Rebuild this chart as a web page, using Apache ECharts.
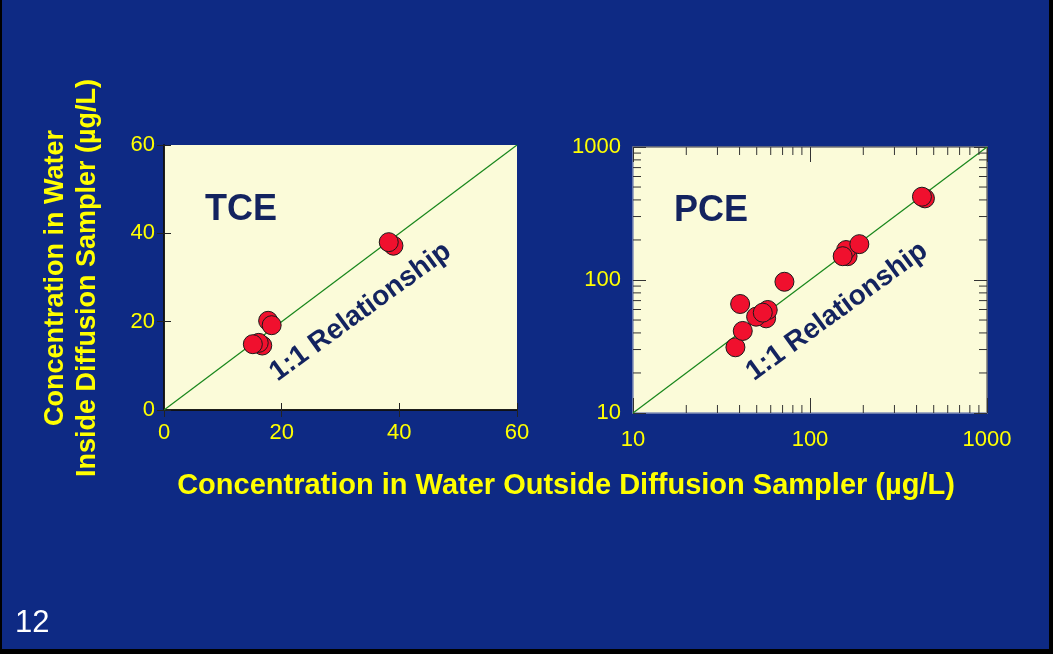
<!DOCTYPE html>
<html>
<head>
<meta charset="utf-8">
<script src="https://cdn.jsdelivr.net/npm/echarts@6/dist/echarts.min.js"></script>
<style>
html,body{margin:0;padding:0;background:#000;}
#c{position:absolute;left:2px;top:0;width:1047px;height:649px;background:#0e2a84;}
</style>
</head>
<body>
<div id="c"></div>
<script>
// ---- data ----
const tceX = [16.7, 16.1, 15.1, 17.7, 18.3, 39.0, 38.2];
const tceY = [14.6, 15.2, 14.9, 20.2, 19.2, 37.2, 38.0];
const pceX = [37.9, 41.7, 40.3, 56.5, 49.6, 57.7, 54.1, 71.7, 163, 160, 153, 190, 446, 429];
const pceY = [31.2, 41.4, 66.0, 51.5, 53.0, 59.5, 56.8, 97, 151, 168, 151, 186, 411, 423];
const tceTicks = [0, 20, 40, 60];
const pceMajor = [10, 100, 1000];
const pceMinor = [20, 30, 40, 50, 60, 70, 80, 90, 200, 300, 400, 500, 600, 700, 800, 900];
const oneToOneTCE = [[0, 0], [60, 60]];
const oneToOnePCE = [[10, 10], [1000, 1000]];
const panelNames = ['TCE', 'PCE'];
const lineLabel = '1:1 Relationship';
const xTitle = 'Concentration in Water Outside Diffusion Sampler (µg/L)';
const yTitle = ['Concentration in Water', 'Inside Diffusion Sampler (µg/L)'];
const slideNumber = '12';
// annotation anchors (data coords)
const tceNamePos = [13.1, 45.3];
const pceNamePos = [27.6, 327];
const tceLinePos = [33.4, 22.2];
const pceLinePos = [142, 58];

const FONT = '"Liberation Sans", Arial, sans-serif';
const YELLOW = '#ffff00';
const NAVY = '#13235f';
const PLOTBG = '#fbfbd9';
const RED = '#f0102e';

const chart = echarts.init(document.getElementById('c'), null, {renderer: 'canvas'});

function labelStyle(margin) {
  return {color: YELLOW, fontSize: 22, fontFamily: FONT, margin: margin, formatter: v => String(v)};
}

function annotations(items) {
  return function (params, api) {
    const it = items[params.dataIndex];
    const p = api.coord(it.pos);
    return {type: 'text', x: p[0], y: p[1], rotation: (it.rotate || 0) * Math.PI / 180,
      style: {text: it.text, fill: NAVY, font: 'bold ' + it.size + 'px ' + FONT,
        textAlign: 'center', textVerticalAlign: 'middle'}};
  };
}
const tceAnn = [{pos: tceNamePos, text: panelNames[0], size: 36},
                {pos: tceLinePos, text: lineLabel, size: 28, rotate: 36}];
const pceAnn = [{pos: pceNamePos, text: panelNames[1], size: 36},
                {pos: pceLinePos, text: lineLabel, size: 28, rotate: 36}];

const option = {
  animation: false,
  grid: [
    {left: 162, top: 145, width: 353, height: 265, show: true, backgroundColor: PLOTBG, borderWidth: 0},
    {left: 631, top: 147, width: 354, height: 266, show: true, backgroundColor: PLOTBG, borderWidth: 0}
  ],
  xAxis: [
    {gridIndex: 0, type: 'value', min: 0, max: 60, interval: 20, position: 'bottom',
     axisLine: {lineStyle: {color: '#111', width: 1.5}}, axisTick: {inside: true, length: 7, lineStyle: {color: '#222'}},
     axisLabel: labelStyle(12), splitLine: {show: false}},
    {gridIndex: 0, type: 'value', min: 0, max: 60, interval: 20, position: 'top',
     axisLine: {lineStyle: {color: '#111', width: 1.5}}, axisTick: {inside: true, length: 7, lineStyle: {color: '#222'}},
     axisLabel: {show: false}, splitLine: {show: false}},
    {gridIndex: 1, type: 'log', logBase: 10, min: 10, max: 1000, position: 'bottom',
     axisLine: {lineStyle: {color: '#8592b8', width: 1.5}}, axisTick: {inside: true, length: 15, lineStyle: {color: '#333'}},
     axisLabel: labelStyle(16), splitLine: {show: false}},
    {gridIndex: 1, type: 'log', logBase: 10, min: 10, max: 1000, position: 'top',
     axisLine: {lineStyle: {color: '#777', width: 1.5}}, axisTick: {inside: true, length: 15, lineStyle: {color: '#333'}},
     axisLabel: {show: false}, splitLine: {show: false}}
  ],
  yAxis: [
    {gridIndex: 0, type: 'value', min: 0, max: 60, interval: 20, position: 'left',
     axisLine: {lineStyle: {color: '#111', width: 1.5}}, axisTick: {inside: true, length: 7, lineStyle: {color: '#222'}},
     axisLabel: Object.assign(labelStyle(9), {padding: [6, 0, 0, 0]}), splitLine: {show: false}},
    {gridIndex: 0, type: 'value', min: 0, max: 60, interval: 20, position: 'right',
     axisLine: {lineStyle: {color: '#111', width: 1.5}}, axisTick: {inside: true, length: 7, lineStyle: {color: '#222'}},
     axisLabel: {show: false}, splitLine: {show: false}},
    {gridIndex: 1, type: 'log', logBase: 10, min: 10, max: 1000, position: 'left',
     axisLine: {lineStyle: {color: '#8592b8', width: 1.5}}, axisTick: {inside: true, length: 13, lineStyle: {color: '#333'}},
     axisLabel: Object.assign(labelStyle(12), {padding: [4, 0, 0, 0]}), splitLine: {show: false}},
    {gridIndex: 1, type: 'log', logBase: 10, min: 10, max: 1000, position: 'right',
     axisLine: {lineStyle: {color: '#777', width: 1.5}}, axisTick: {inside: true, length: 13, lineStyle: {color: '#333'}},
     axisLabel: {show: false}, splitLine: {show: false}}
  ],
  graphic: [
    {type: 'text', x: 70, y: 278, rotation: Math.PI / 2,
     style: {text: yTitle.join('\n'), fill: YELLOW, font: 'bold 27px ' + FONT, textAlign: 'center', textVerticalAlign: 'middle', lineHeight: 32}},
    {type: 'text', x: 564, y: 486,
     style: {text: xTitle, fill: YELLOW, font: 'bold 29px ' + FONT, textAlign: 'center', textVerticalAlign: 'middle'}},
    {type: 'text', x: 13, y: 623,
     style: {text: slideNumber, fill: '#ffffff', font: '31px ' + FONT, textAlign: 'left', textVerticalAlign: 'middle'}}
  ],
  series: [
    {type: 'line', xAxisIndex: 0, yAxisIndex: 0, data: oneToOneTCE, symbol: 'none',
     lineStyle: {color: '#17861b', width: 1.2}, silent: true, z: 2},
    {type: 'line', xAxisIndex: 2, yAxisIndex: 2, data: oneToOnePCE, symbol: 'none',
     lineStyle: {color: '#17861b', width: 1.2}, silent: true, z: 2},
    {type: 'custom', xAxisIndex: 2, yAxisIndex: 2, data: pceMinor.map(v => [v]), silent: true, clip: false, z: 3,
     renderItem: function (params, api) {
       const v = api.value(0);
       const cs = params.coordSys;
       const x = api.coord([v, 10])[0];
       const y = api.coord([10, v])[1];
       const L = 8;
       const st = {stroke: '#333', lineWidth: 1};
       return {type: 'group', children: [
         {type: 'line', shape: {x1: x, y1: cs.y + cs.height, x2: x, y2: cs.y + cs.height - L}, style: st},
         {type: 'line', shape: {x1: x, y1: cs.y, x2: x, y2: cs.y + L}, style: st},
         {type: 'line', shape: {x1: cs.x, y1: y, x2: cs.x + L, y2: y}, style: st},
         {type: 'line', shape: {x1: cs.x + cs.width, y1: y, x2: cs.x + cs.width - L, y2: y}, style: st}
       ]};
     }},
    {type: 'scatter', xAxisIndex: 0, yAxisIndex: 0, data: tceX.map((x, i) => [x, tceY[i]]),
     symbolSize: 19, itemStyle: {color: RED, borderColor: '#1a1a1a', borderWidth: 1, opacity: 1}, z: 5},
    {type: 'scatter', xAxisIndex: 2, yAxisIndex: 2, data: pceX.map((x, i) => [x, pceY[i]]),
     symbolSize: 19, itemStyle: {color: RED, borderColor: '#1a1a1a', borderWidth: 1, opacity: 1}, z: 5},
    {type: 'custom', xAxisIndex: 0, yAxisIndex: 0, silent: true, clip: false, z: 6,
     data: tceAnn.map(a => a.pos), renderItem: annotations(tceAnn)},
    {type: 'custom', xAxisIndex: 2, yAxisIndex: 2, silent: true, clip: false, z: 6,
     data: pceAnn.map(a => a.pos), renderItem: annotations(pceAnn)}
  ]
};
chart.setOption(option);
</script>
</body>
</html>
